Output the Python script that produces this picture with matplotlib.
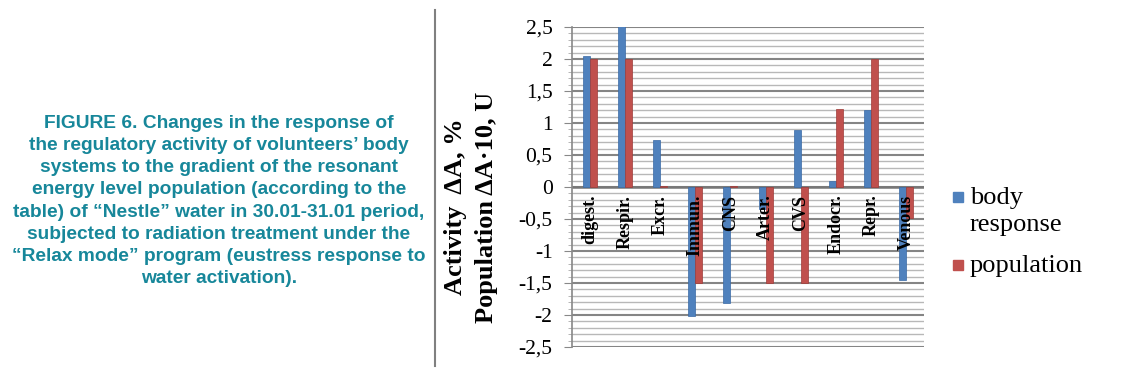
import matplotlib
matplotlib.use("Agg")
import matplotlib.pyplot as plt
import numpy as np
from matplotlib.lines import Line2D
from matplotlib.patches import Rectangle

categories = ["digest.", "Respir.", "Excr.", "Immun.", "CNS", "Arter.", "CVS", "Endocr.", "Repr.", "Venous"]
body_response = [2.05, 2.52, 0.73, -2.02, -1.82, -0.35, 0.89, 0.09, 1.2, -1.45]
population = [2.0, 2.0, 0.02, -1.5, 0.02, -1.5, -1.5, 1.22, 2.0, -0.48]
y_ticks = [-2.5, -2, -1.5, -1, -0.5, 0, 0.5, 1, 1.5, 2, 2.5]
y_tick_labels = ["-2,5", "-2", "-1,5", "-1", "-0,5", "0", "0,5", "1", "1,5", "2", "2,5"]
series_names = ["body\nresponse", "population"]

BLUE = "#4f81bd"
RED = "#c0504d"
TEAL = "#17879a"

caption = ("FIGURE 6. Changes in the response of\n"
           "the regulatory activity of volunteers\u2019 body\n"
           "systems to the gradient of the resonant\n"
           "energy level population (according to the\n"
           "table) of \u201cNestle\u201d water in 30.01-31.01 period,\n"
           "subjected to radiation treatment under the\n"
           "\u201cRelax mode\u201d program (eustress response to\n"
           "water activation).")

fig = plt.figure(figsize=(11.25, 3.84), dpi=100)
ax = fig.add_axes([572 / 1125, 1 - 347 / 384, 352 / 1125, 320 / 384])

x = np.arange(len(categories))
w = 0.2
ax.bar(x - w / 2, body_response, w, color=BLUE, edgecolor="#3a6aa5", linewidth=0.5, zorder=3)
ax.bar(x + w / 2, population, w, color=RED, edgecolor="#9e3b38", linewidth=0.5, zorder=3)

ax.set_xlim(-0.5, len(categories) - 0.5)
ax.set_ylim(-2.5, 2.5)

# grid: minor every 0.1, major every 0.5
for v in np.arange(-2.5, 2.51, 0.1):
    major = abs(v * 2 - round(v * 2)) < 1e-6
    ax.axhline(v, color="#858585" if major else "#b8b8b8",
               linewidth=1.5 if major else 1.0, zorder=1)
ax.axhline(0, color="#777777", linewidth=1.8, zorder=2)

ax.set_yticks(y_ticks)
ax.set_yticklabels(y_tick_labels, family="Liberation Serif", fontsize=15.5)
ax.set_yticks(np.arange(-2.5, 2.51, 0.1), minor=True)
ax.tick_params(axis="y", which="major", length=6, color="#888888", pad=8)
ax.tick_params(axis="y", which="minor", length=3, color="#aaaaaa")
ax.set_xticks([])
for side in ["top", "right", "bottom"]:
    ax.spines[side].set_visible(False)
ax.spines["left"].set_color("#888888")
ax.spines["left"].set_linewidth(1.2)

for i, lab in enumerate(categories):
    ax.text(x[i], -0.12, lab, rotation=90, ha="center", va="top",
            family="Liberation Serif", fontweight="bold", fontsize=13, zorder=4)

fig.text(471 / 1125, 1 - 207 / 384, "Activity  \u0394A, %\nPopulation \u0394A\u00b710, U",
         rotation=90, ha="center", va="center", multialignment="center",
         family="Liberation Serif", fontweight="bold", fontsize=19, linespacing=1.45)

# legend, drawn by hand so the marker sits on the first text line
leg_rows = [(197, BLUE, series_names[0]), (265, RED, series_names[1])]
for y_px, col, name in leg_rows:
    fig.add_artist(Rectangle((953 / 1125, 1 - (y_px + 5) / 384), 10 / 1125, 10 / 384,
                             transform=fig.transFigure, color=col))
    fig.text(970 / 1125, 1 - (y_px - 10) / 384, name, ha="left", va="top",
             family="Liberation Serif", fontsize=19, linespacing=1.28)

fig.text(219 / 1125, 1 - 201 / 384, caption, ha="center", va="center",
         multialignment="center", color=TEAL, family="Liberation Sans",
         fontweight="bold", fontsize=13.8, linespacing=1.39)

fig.add_artist(Line2D([435 / 1125, 435 / 1125], [1 - 10 / 384, 1 - 366 / 384],
                      transform=fig.transFigure, color="#808080", linewidth=1.5))

fig.savefig("out.png", dpi=100)
